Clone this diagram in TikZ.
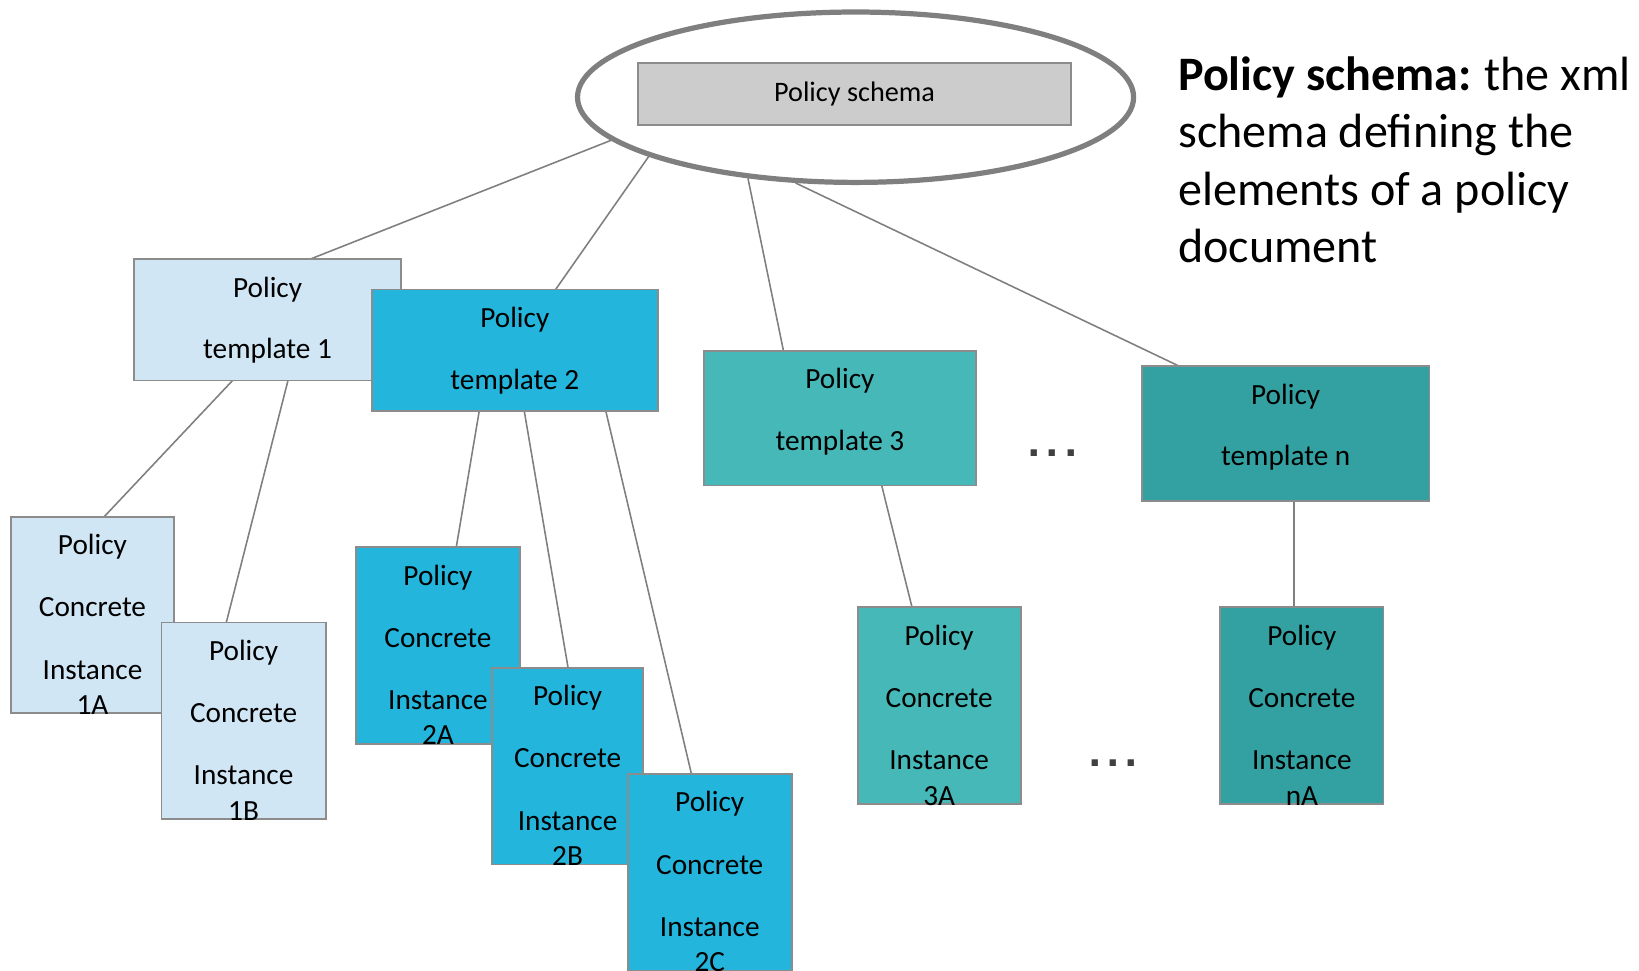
\documentclass[tikz,border=0pt]{standalone}
\usepackage{fontspec}
\setmainfont{Carlito}
\newfontfamily\squaredots{DejaVu Sans}
\usetikzlibrary{shapes.geometric,backgrounds}

\definecolor{lineGray}{HTML}{7F7F7F}
\definecolor{edgeGray}{HTML}{8C8C8C}
\definecolor{schemaFill}{HTML}{CCCCCC}
\definecolor{paleBlue}{HTML}{D1E6F4}
\definecolor{skyBlue}{HTML}{23B5DB}
\definecolor{tealA}{HTML}{47B8B8}
\definecolor{tealB}{HTML}{33A1A1}
\definecolor{dotGray}{HTML}{404040}

\begin{document}
\begin{tikzpicture}[x=1pt,y=-1pt,
  box/.style={draw=edgeGray, line width=1.8pt, inner sep=0pt, outer sep=0pt},
  tmplbox/.style={box, minimum width=#1, minimum height=116pt},
  instbox/.style={box, minimum width=#1, minimum height=188pt},
  caption/.style={font=\fontsize{28}{34}\selectfont, align=center, anchor=north,
                  inner sep=0pt, text=black},
  link/.style={draw=lineGray, line width=1.5pt},
  dotmark/.style={anchor=base, inner sep=0pt, text=dotGray,
                  font=\squaredots\bfseries\fontsize{34}{34}\selectfont}]

\useasboundingbox (0,0) rectangle (1568,928);
\clip (0,0) rectangle (1568,928);

% schema
\node[ellipse, draw=lineGray, line width=5pt, minimum width=532pt,
      minimum height=163pt, inner sep=0pt] (ell) at (818.5,93) {};
\node[box, fill=schemaFill, minimum width=414pt, minimum height=59pt,
      font=\fontsize{27}{32}\selectfont] (schema) at (817.5,90) {Policy schema};

% explanation
\node[anchor=north west, align=left, inner sep=0pt,
      font=\fontsize{46}{55}\selectfont] (title) at (1127,46)
  {\rule{0pt}{40pt}\textbf{Policy schema:}\hspace{-2pt} the xml\\schema defining the\\elements of a policy\\document};

% templates
\node[tmplbox=255pt, fill=paleBlue] (t1) at (256,306) {};
\node[caption] (t1txt) at ([yshift=-14pt]t1.north) {\rule{0pt}{22pt}Policy\\[25pt]template 1};
\node[tmplbox=274pt, fill=skyBlue] (t2) at (492.5,335) {};
\node[caption] (t2txt) at ([yshift=-14pt]t2.north) {\rule{0pt}{22pt}Policy\\[25pt]template 2};
\node[tmplbox=260pt, fill=tealA, minimum height=129pt] (t3) at (803.5,400) {};
\node[caption] (t3txt) at ([yshift=-14pt]t3.north) {\rule{0pt}{22pt}Policy\\[25pt]template 3};
\node[tmplbox=275pt, fill=tealB, minimum height=129pt] (tn) at (1230,415) {};
\node[caption] (tntxt) at ([yshift=-14pt]tn.north) {\rule{0pt}{22pt}Policy\\[25pt]template n};

% concrete instances
\node[instbox=156pt, fill=paleBlue] (i1a) at (88.5,588.5) {};
\node[caption] (i1atxt) at ([yshift=-14pt]i1a.north) {\rule{0pt}{22pt}Policy\\[25.5pt]Concrete\\[25.5pt]Instance\\1A};
\node[instbox=157pt, fill=paleBlue] (i1b) at (233,689.5) {};
\node[caption] (i1btxt) at ([yshift=-14pt]i1b.north) {\rule{0pt}{22pt}Policy\\[25.5pt]Concrete\\[25.5pt]Instance\\1B};
\node[instbox=157pt, fill=skyBlue] (i2a) at (419,617.5) {};
\node[caption] (i2atxt) at ([yshift=-14pt]i2a.north) {\rule{0pt}{22pt}Policy\\[25.5pt]Concrete\\[25.5pt]Instance\\2A};
\node[instbox=145pt, fill=skyBlue] (i2b) at (543,733) {};
\node[caption] (i2btxt) at ([yshift=-14pt]i2b.north) {\rule{0pt}{22pt}Policy\\[25.5pt]Concrete\\[25.5pt]Instance\\2B};
\node[instbox=157pt, fill=skyBlue] (i2c) at (679,834.5) {};
\node[caption] (i2ctxt) at ([yshift=-14pt]i2c.north) {\rule{0pt}{22pt}Policy\\[25.5pt]Concrete\\[25.5pt]Instance\\2C};
\node[instbox=156pt, fill=tealA] (i3a) at (898.5,675) {};
\node[caption] (i3atxt) at ([yshift=-14pt]i3a.north) {\rule{0pt}{22pt}Policy\\[25.5pt]Concrete\\[25.5pt]Instance\\3A};
\node[instbox=156pt, fill=tealB] (ina) at (1245.5,675) {};
\node[caption] (inatxt) at ([yshift=-14pt]ina.north) {\rule{0pt}{22pt}Policy\\[25.5pt]Concrete\\[25.5pt]Instance\\nA};

% ellipses marking omitted items
\node[dotmark] (dots1) at (1007,436.5) {.\hspace{4.5pt}.\hspace{4.5pt}.};
\node[dotmark] (dots2) at (1065,733.5) {.\hspace{4.5pt}.\hspace{4.5pt}.};

% connectors, kept behind the boxes
\begin{pgfonlayer}{background}
  \draw[link] (ell.190.0) -- ([xshift=168pt]t1.north west);
  \draw[link] (ell.196.6) -- ([xshift=176pt]t2.north west);
  \draw[link] (ell.217.1) -- ([xshift=76pt]t3.north west);
  \draw[link] (ell.235.8) -- ([xshift=36pt]tn.north west);
  \draw[link] ([xshift=94pt]t1.south west) -- ([xshift=89pt]i1a.north west);
  \draw[link] ([xshift=147pt]t1.south west) -- ([xshift=62pt]i1b.north west);
  \draw[link] ([xshift=103pt]t2.south west) -- ([xshift=96pt]i2a.north west);
  \draw[link] ([xshift=146pt]t2.south west) -- ([xshift=73pt]i2b.north west);
  \draw[link] ([xshift=224pt]t2.south west) -- ([xshift=61pt]i2c.north west);
  \draw[link] ([xshift=170pt]t3.south west) -- ([xshift=52pt]i3a.north west);
  \draw[link] (tn.south) ++(8pt,0) coordinate (tnfoot) -- (tnfoot |- ina.north);
\end{pgfonlayer}
\end{tikzpicture}
\end{document}
